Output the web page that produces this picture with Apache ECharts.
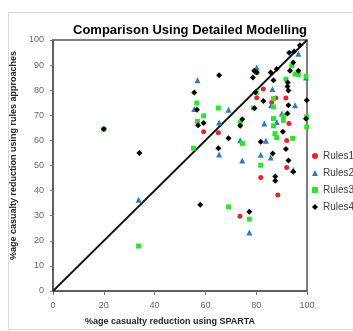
<!DOCTYPE html>
<html>
<head>
<meta charset="utf-8">
<script src="https://cdn.jsdelivr.net/npm/echarts@6/dist/echarts.min.js"></script>
<style>
  html, body { margin: 0; padding: 0; background: #fff; }
  #chart { width: 353px; height: 331px; }
</style>
</head>
<body>
<div id="chart"></div>
<script>
// values: [SPARTA %, rules %]
const rules1 = [
  [59.3, 63.4], [65.1, 63.0], [81.8, 45.2], [88.5, 38.2], [73.6, 29.8],
  [92.0, 49.2], [92.0, 60.0], [92.9, 66.7], [82.8, 80.5], [80.2, 77.0],
  [87.7, 76.9], [86.1, 75.2], [91.7, 76.9]
];
const rules2 = [
  [33.7, 36.4], [56.9, 84.0], [55.6, 72.5], [69.1, 72.2], [65.4, 67.1],
  [65.4, 54.4], [74.5, 52.0], [73.7, 60.1], [77.3, 23.3], [81.8, 54.3],
  [85.7, 53.2], [83.8, 59.9], [83.2, 66.7], [88.1, 67.3], [94.6, 48.2],
  [80.2, 89.0], [96.6, 94.5], [86.4, 80.5], [85.9, 74.0], [95.3, 74.0],
  [90.1, 70.7], [99.6, 85.1]
];
const rules3 = [
  [33.7, 17.9], [20.0, 64.5], [56.6, 74.9], [65.1, 72.9], [59.3, 69.8],
  [56.9, 67.6], [55.3, 56.9], [69.1, 33.5], [77.3, 28.6], [81.8, 50.1],
  [73.7, 67.1], [74.6, 58.8], [78.9, 72.9], [80.0, 79.1], [86.8, 76.6],
  [86.8, 73.3], [86.8, 68.7], [90.7, 69.7], [90.7, 68.0], [87.4, 62.7],
  [86.8, 65.8], [88.1, 61.1], [94.4, 60.8], [99.9, 65.4], [99.9, 69.4],
  [91.7, 84.4], [94.0, 89.7], [95.3, 86.4], [96.6, 86.2], [99.6, 85.6],
  [80.2, 87.1]
];
const rules4 = [
  [20.0, 64.5], [34.0, 55.0], [58.0, 34.4], [77.3, 31.6], [65.4, 86.0],
  [55.6, 79.1], [56.7, 72.2], [59.3, 66.9], [57.1, 66.0], [69.1, 60.9],
  [65.1, 56.9], [81.8, 59.5], [86.5, 54.8], [91.7, 56.6], [92.7, 52.0],
  [94.6, 47.5], [87.5, 45.6], [87.5, 43.9], [90.5, 63.4], [73.7, 65.8],
  [74.5, 68.4], [97.2, 97.9], [93.0, 94.9], [94.9, 95.4], [79.2, 87.7],
  [80.2, 87.1], [85.7, 87.1], [88.1, 88.4], [78.7, 85.1], [86.8, 84.0],
  [94.6, 91.0], [96.6, 87.7], [93.3, 87.7], [92.4, 83.1], [92.3, 81.5],
  [92.7, 79.9], [79.7, 79.2], [82.8, 75.7], [92.7, 74.0], [99.9, 76.0],
  [99.6, 68.6], [92.3, 70.7], [79.3, 72.8]
];
const equalLine = [[0, 0], [100, 100]];
const seriesNames = ['Rules1', 'Rules2', 'Rules3', 'Rules4'];

const font = 'Liberation Sans, Arial, sans-serif';

let chart = echarts.init(document.getElementById('chart'));
let option = {
    animation: false,
    textStyle: { fontFamily: font },
    title: {
        text: 'Comparison Using Detailed Modelling',
        left: 185,
        textAlign: 'center',
        top: 19,
        textStyle: { fontSize: 13, fontWeight: 'bold', color: '#000', fontFamily: font }
    },
    graphic: [{
        type: 'rect',
        shape: { x: 8.5, y: 12.5, width: 360, height: 317 },
        style: { fill: 'none', stroke: '#d9d9d9', lineWidth: 1 },
        silent: true
    }],
    grid: {
        left: 53, top: 40, width: 254, height: 255,
        show: true, borderColor: '#555', borderWidth: 1.5, backgroundColor: 'transparent'
    },
    xAxis: {
        type: 'value', min: 0, max: 100, interval: 20,
        name: '%age casualty reduction using SPARTA',
        nameLocation: 'middle', nameGap: 26,
        nameTextStyle: { fontSize: 9, fontWeight: 'bold', color: '#262626', padding: [0, 20, 0, 0] },
        axisLine: { show: true, lineStyle: { color: '#555', width: 1.5 } },
        axisTick: { show: true, length: 4, lineStyle: { color: '#777' } },
        axisLabel: { fontSize: 9, color: '#666', margin: 10 },
        splitLine: { show: false }
    },
    yAxis: {
        type: 'value', min: 0, max: 100, interval: 10,
        name: '%age casualty reduction using rules approaches',
        nameLocation: 'middle', nameGap: 25, nameRotate: 90,
        nameTextStyle: { fontSize: 9, fontWeight: 'bold', color: '#262626', padding: [0, 0, 0, 20] },
        axisLine: { show: true, lineStyle: { color: '#555', width: 1.5 } },
        axisTick: { show: true, length: 3, lineStyle: { color: '#777' } },
        axisLabel: { fontSize: 9, color: '#666', margin: 9 },
        splitLine: { show: false }
    },
    legend: {
        orient: 'vertical',
        left: 312, top: 151, padding: 0,
        itemWidth: 6, itemHeight: 6, itemGap: 7,
        textStyle: { fontSize: 10, color: '#404040' },
        data: [
            { name: 'Rules1', icon: 'circle' },
            { name: 'Rules2', icon: 'triangle' },
            { name: 'Rules3', icon: 'rect' },
            { name: 'Rules4', icon: 'diamond' }
        ]
    },
    series: [
        {
            type: 'line', data: equalLine, symbol: 'none', silent: true,
            lineStyle: { color: '#111', width: 1.8 }, z: 1
        },
        { name: seriesNames[0], type: 'scatter', data: rules1, symbol: 'circle', symbolSize: 5, itemStyle: { color: '#e3262c', opacity: 1 }, z: 3 },
        { name: seriesNames[1], type: 'scatter', data: rules2, symbol: 'triangle', symbolSize: 6, itemStyle: { color: '#2f7cb8', opacity: 1 }, z: 3 },
        { name: seriesNames[2], type: 'scatter', data: rules3, symbol: 'rect', symbolSize: 5, itemStyle: { color: '#33e033', opacity: 1 }, z: 3 },
        { name: seriesNames[3], type: 'scatter', data: rules4, symbol: 'diamond', symbolSize: 6, itemStyle: { color: '#000', opacity: 1 }, z: 4 }
    ]
};
chart.setOption(option);
</script>
</body>
</html>
